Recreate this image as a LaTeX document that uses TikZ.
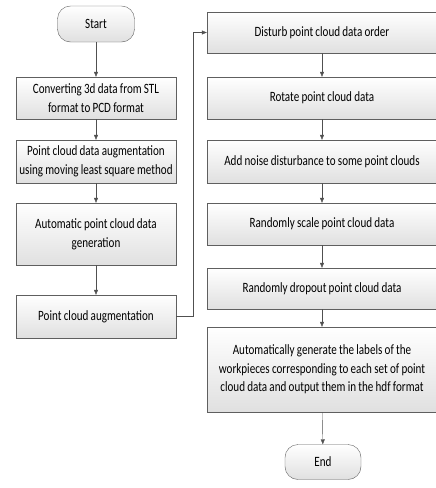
\documentclass[tikz,border=0pt]{standalone}
\usepackage{fontspec}
\setmainfont{Carlito}[FakeStretch=0.78,WordSpace=0.9]
\usetikzlibrary{arrows.meta}
\definecolor{box-line}{RGB}{95,95,95}
\definecolor{box-bottom}{RGB}{224,224,224}
\definecolor{arrow-line}{RGB}{80,80,80}

\begin{document}
\begin{tikzpicture}[x=1pt,y=-1pt,
    stepbox/.style={draw=box-line, top color=white, bottom color=box-bottom,
        align=center, inner sep=1pt, font=\fontsize{14.2}{18.7}\selectfont},
    leftbox/.style={stepbox, minimum width=160pt, minimum height=42pt},
    rightbox/.style={stepbox, minimum width=230pt, minimum height=42pt},
    termbox/.style={stepbox, rounded corners=13pt, minimum width=77pt, minimum height=36pt},
    flow/.style={draw=arrow-line, -{Triangle[length=5pt,width=4pt]}}]
\useasboundingbox (0,0) rectangle (436,488);
\node[termbox] (start) at (96,24) {Start};
\node[leftbox] (stl) at (96,98) {Converting 3d data from STL\\format to PCD format};
\node[leftbox, minimum height=43pt] (mls) at (96,161.5) {Point cloud data augmentation\\using moving least square method};
\node[leftbox, minimum height=62pt] (gen) at (96,234) {Automatic point cloud data\\generation};
\node[leftbox, minimum height=43pt] (aug) at (96,316.5) {Point cloud augmentation};
\node[rightbox, minimum height=41pt] (order) at (322,32.5) {Disturb point cloud data order};
\node[rightbox] (rotate) at (322,98) {Rotate point cloud data};
\node[rightbox, minimum height=43pt] (noise) at (322,161.5) {Add noise disturbance to some point clouds};
\node[rightbox] (scale) at (322,224) {Randomly scale point cloud data};
\node[rightbox, minimum height=41pt] (dropout) at (322,288.5) {Randomly dropout point cloud data};
\node[rightbox, minimum height=85pt] (labels) at (322,369.5) {Automatically generate the labels of the\\workpieces corresponding to each set of point\\cloud data and output them in the hdf format};
\node[termbox, minimum width=76pt, minimum height=35pt] (end) at (323,462) {End};
\draw[flow] (start) -- (stl);
\draw[flow] (stl) -- (mls);
\draw[flow] (mls) -- (gen);
\draw[flow] (gen) -- (aug);
\draw[flow] (aug.east) -- ++(17,0) |- (order.west);
\draw[flow] (order) -- (rotate);
\draw[flow] (rotate) -- (noise);
\draw[flow] (noise) -- (scale);
\draw[flow] (scale) -- (dropout);
\draw[flow] (dropout) -- (labels);
\draw[flow] (labels) -- (end);
\end{tikzpicture}
\end{document}
